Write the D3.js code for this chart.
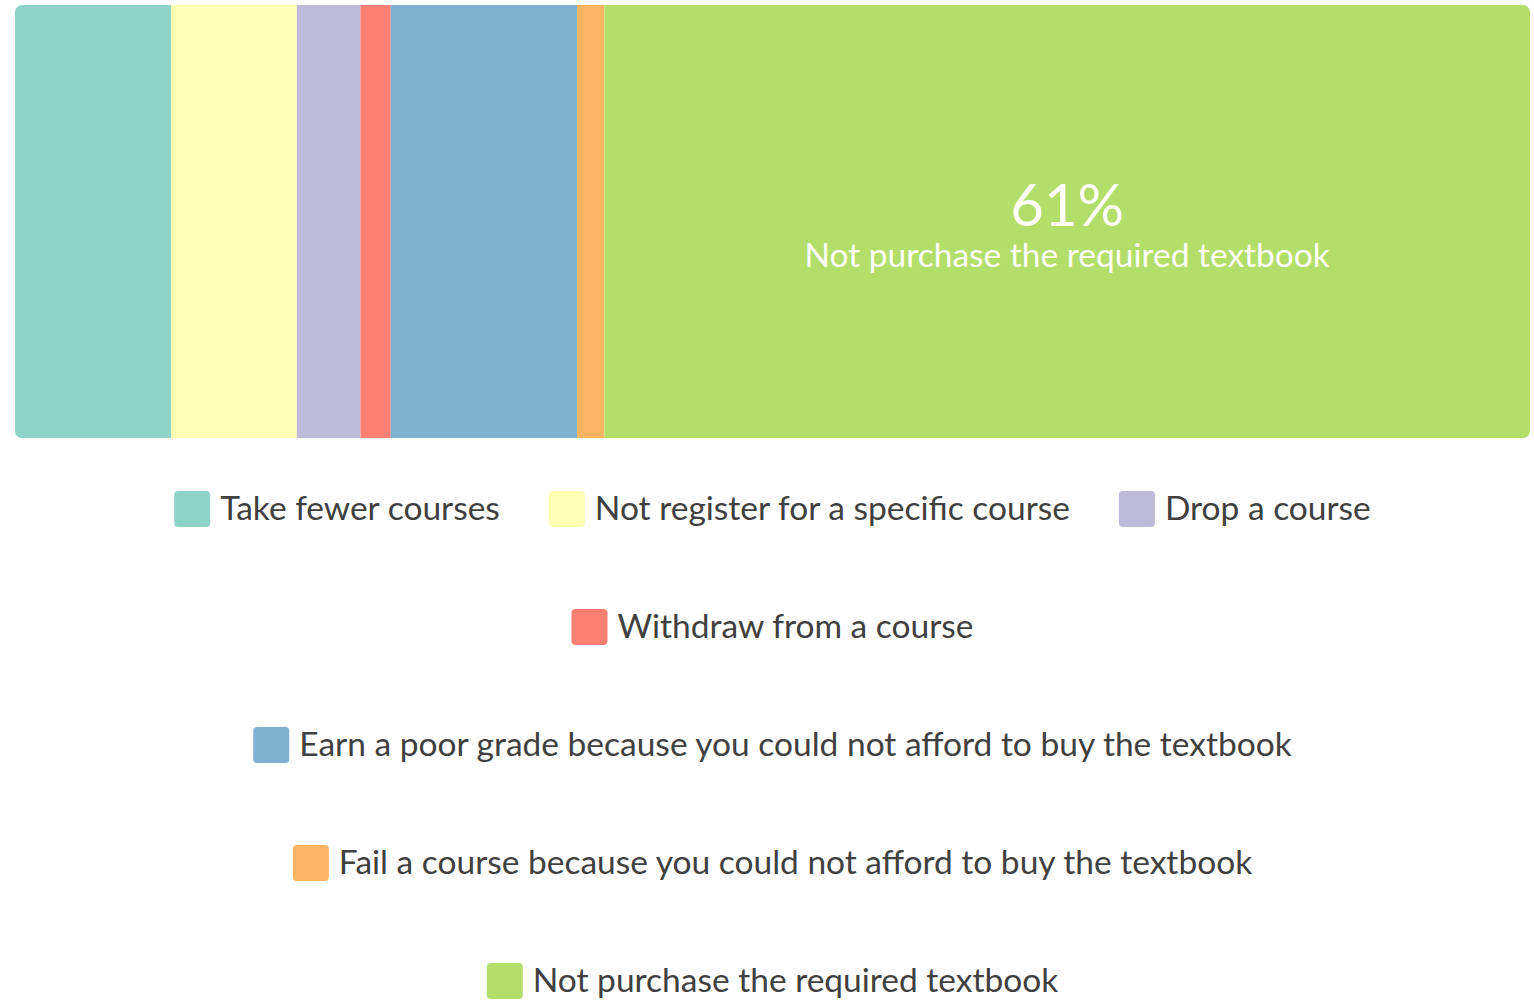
<!DOCTYPE html>
<html>
<head>
<meta charset="utf-8">
<script src="https://cdn.jsdelivr.net/npm/d3@7"></script>
<style>
  body { margin: 0; background: #fff; }
  svg { display: block; font-family: Lato, "Noto Sans", sans-serif; }
</style>
</head>
<body>
<div id="chart"></div>
<script>
// categories and share of responses (percent)
var categories = [
    "Take fewer courses",
    "Not register for a specific course",
    "Drop a course",
    "Withdraw from a course",
    "Earn a poor grade because you could not afford to buy the textbook",
    "Fail a course because you could not afford to buy the textbook",
    "Not purchase the required textbook"
];
var values = [10.3, 8.3, 4.2, 2.0, 12.3, 1.8, 61.1];
var colors = ["#8dd3c7", "#ffffb3", "#bebada", "#fb8072", "#80b1d3", "#fdb462", "#b3de69"];

var width = 1534;
var height = 1000;
var barLeft = 15, barRight = 1530, barTop = 5, barBottom = 438;
var fontSize = 33.5;

var svg = d3.select("#chart")
    .append("svg")
    .attr("width", width)
    .attr("height", height);

var total = d3.sum(values);
var x = d3.scaleLinear()
    .domain([0, total])
    .range([barLeft, barRight]);

var stack = [];
var acc = 0;
values.forEach(function (v, i) {
    stack.push({ name: categories[i], value: v, start: acc, end: acc + v, color: colors[i] });
    acc += v;
});

// clip for the rounded outer corners
svg.append("defs").append("clipPath")
    .attr("id", "barclip")
    .append("rect")
    .attr("x", barLeft)
    .attr("y", barTop)
    .attr("width", barRight - barLeft)
    .attr("height", barBottom - barTop)
    .attr("rx", 7);

var bars = svg.append("g").attr("clip-path", "url(#barclip)");

bars.selectAll("rect")
    .data(stack)
    .enter()
    .append("rect")
    .attr("x", d => x(d.start))
    .attr("y", barTop)
    .attr("width", d => x(d.end) - x(d.start))
    .attr("height", barBottom - barTop)
    .attr("fill", d => d.color);

// label on the biggest segment only
var biggest = stack.reduce((a, b) => (b.value > a.value ? b : a));
var cx = (x(biggest.start) + x(biggest.end)) / 2;
var cy = (barTop + barBottom) / 2;

svg.append("text")
    .attr("x", cx)
    .attr("y", cy + 4)
    .attr("text-anchor", "middle")
    .attr("fill", "#fff")
    .attr("font-size", 58)
    .text(Math.round(biggest.value) + "%");

svg.append("text")
    .attr("x", cx)
    .attr("y", cy + 45)
    .attr("text-anchor", "middle")
    .attr("fill", "#fff")
    .attr("font-size", fontSize)
    .text(biggest.name);

// legend, flowed into rows and centred under the bar
var swatch = 36, swatchGap = 10, itemGap = 49, rowStep = 118, firstRow = 509;
var maxRow = 1380;

var legend = svg.append("g");
var items = legend.selectAll("g")
    .data(stack)
    .enter()
    .append("g");

items.append("rect")
    .attr("width", swatch)
    .attr("height", swatch)
    .attr("rx", 4)
    .attr("y", -swatch / 2)
    .attr("fill", d => d.color);

items.append("text")
    .attr("x", swatch + swatchGap)
    .attr("y", 11)
    .attr("fill", "#404040")
    .attr("font-size", fontSize)
    .text(d => d.name);

var rows = [[]];
var rowW = 0;
items.each(function (d) {
    var w = swatch + swatchGap + this.querySelector("text").getComputedTextLength();
    d.w = w;
    var cur = rows[rows.length - 1];
    var need = cur.length ? rowW + itemGap + w : w;
    if (cur.length && need > maxRow) {
        rows.push([this]);
        rowW = w;
    } else {
        cur.push(this);
        rowW = need;
    }
});

var mid = (barLeft + barRight) / 2;
rows.forEach(function (row, r) {
    var total = d3.sum(row, n => d3.select(n).datum().w) + itemGap * (row.length - 1);
    var px = mid - total / 2;
    row.forEach(function (n) {
        var d = d3.select(n).datum();
        d3.select(n).attr("transform", "translate(" + px + "," + (firstRow + r * rowStep) + ")");
        px += d.w + itemGap;
    });
});
</script>
</body>
</html>
